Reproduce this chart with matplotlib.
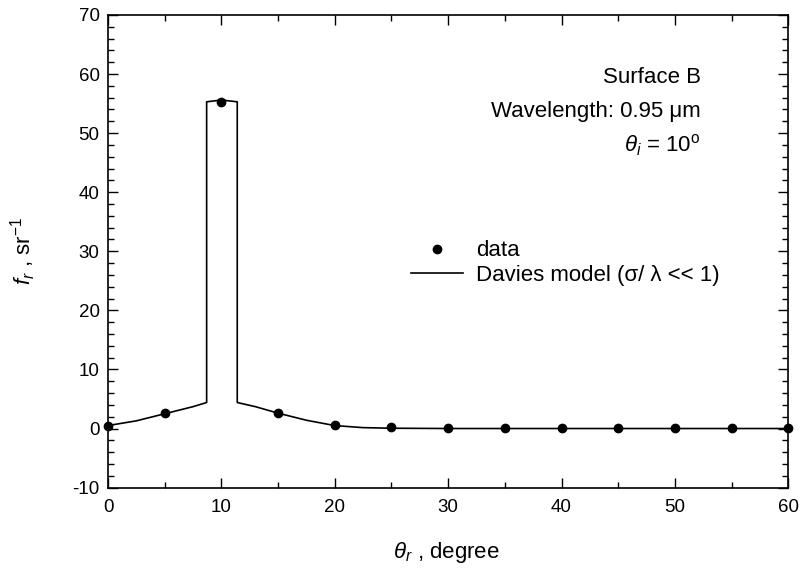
import matplotlib
matplotlib.use("Agg")
import matplotlib.pyplot as plt
from matplotlib.ticker import MultipleLocator

plt.rcParams['font.family'] = ['Liberation Sans', 'DejaVu Sans']
plt.rcParams['mathtext.fontset'] = 'custom'
plt.rcParams['mathtext.rm'] = 'Liberation Sans'
plt.rcParams['mathtext.it'] = 'Liberation Sans:italic'
plt.rcParams['axes.unicode_minus'] = False

# data points
data_x = [0, 5, 10, 15, 20, 25, 30, 35, 40, 45, 50, 55, 60]
data_y = [0.5, 2.6, 55.2, 2.7, 0.6, 0.2, 0.1, 0.05, 0.05, 0.05, 0.05, 0.05, 0.05]

# Davies model curve
model_x = [0, 2.5, 5, 7.5, 8.7, 8.7, 10, 11.4, 11.4, 13, 15, 17.5, 20, 22.5, 25, 30, 60]
model_y = [0.5, 1.3, 2.5, 3.7, 4.4, 55.3, 55.6, 55.3, 4.4, 3.7, 2.6, 1.4, 0.5, 0.15, 0.05, 0, 0]

fig = plt.figure(figsize=(8.06, 5.75), dpi=100)
ax = fig.add_axes([0.134, 0.152, 0.844, 0.822])

ax.plot(data_x, data_y, 'o', color='black', markersize=6, label='data', clip_on=False, zorder=3)
ax.plot(model_x, model_y, '-', color='black', linewidth=1.2, label='Davies model (σ/ λ << 1)')

ax.set_xlim(0, 60)
ax.set_ylim(-10, 70)
ax.xaxis.set_major_locator(MultipleLocator(10))
ax.xaxis.set_minor_locator(MultipleLocator(5))
ax.yaxis.set_major_locator(MultipleLocator(10))
ax.yaxis.set_minor_locator(MultipleLocator(2))
ax.tick_params(which='both', direction='in', top=True, right=True, labelsize=13.5)
ax.tick_params(which='major', length=7, width=1)
ax.tick_params(which='minor', length=4, width=1)
ax.tick_params(axis='x', pad=8)
ax.tick_params(axis='y', pad=6)
for s in ax.spines.values():
    s.set_linewidth(1.2)

ax.set_xlabel(r'$\theta_r$ , degree', fontsize=16)
ax.set_ylabel(r'$f_r$ , sr$^{-1}$', fontsize=16)
ax.xaxis.set_label_coords(0.498, -0.111)
ax.yaxis.set_label_coords(-0.103, 0.5)

ax.legend(loc='center left', bbox_to_anchor=(0.416, 0.475), frameon=False, fontsize=16,
          handlelength=2.34, handletextpad=0.59, labelspacing=0.15)

ax.text(0.871, 0.867, 'Surface B', transform=ax.transAxes, ha='right', va='center', fontsize=16)
ax.text(0.871, 0.795, 'Wavelength: 0.95 μm', transform=ax.transAxes, ha='right', va='center', fontsize=16)
ax.text(0.871, 0.725, r'$\theta_i$ = 10$^{\rm o}$', transform=ax.transAxes, ha='right', va='center', fontsize=16)

fig.savefig('out.png', dpi=100)
